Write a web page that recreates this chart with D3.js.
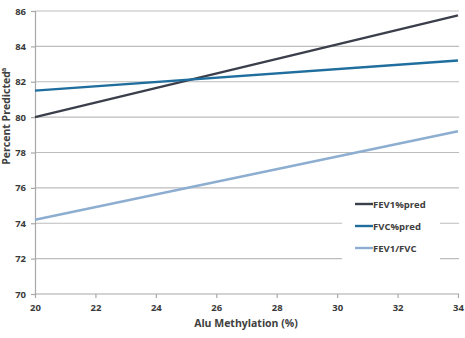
<!DOCTYPE html>
<html>
<head>
<meta charset="utf-8">
<script src="https://cdn.jsdelivr.net/npm/d3@7"></script>
<style>
  body { margin: 0; background: #fff; }
  text { font-family: "Open Sans", "Liberation Sans", sans-serif; font-weight: bold; fill: #404040; }
</style>
</head>
<body>
<div id="chart"></div>
<script>
// chart data
var xEnds = [20, 34];
var fev1Pred = [80.0, 85.75];
var fvcPred = [81.5, 83.2];
var fev1Fvc = [74.2, 79.2];
var seriesNames = ["FEV1%pred", "FVC%pred", "FEV1/FVC"];
var seriesColors = ["#3a3f4b", "#1f6e9e", "#8daed0"];
var xTicks = [20, 22, 24, 26, 28, 30, 32, 34];
var yTicks = [70, 72, 74, 76, 78, 80, 82, 84, 86];

var svgWidth = 465;
var svgHeight = 338;
var margin = { top: 11, right: 6, bottom: 44, left: 35 };
var width = svgWidth - margin.left - margin.right;
var height = svgHeight - margin.top - margin.bottom;

var svg = d3.select("#chart")
    .append("svg")
    .attr("width", svgWidth)
    .attr("height", svgHeight)
;

var chartGroup = svg.append("g")
    .attr("transform", `translate(${margin.left}, ${margin.top})`)
;

var xScale = d3.scaleLinear().domain([20, 34]).range([0, width - 1]);
var yScale = d3.scaleLinear().domain([70, 86]).range([height, 0]);

// horizontal grid lines
chartGroup.append("g")
    .selectAll("line")
    .data(yTicks.slice(1))
    .enter()
    .append("line")
    .attr("x1", 0)
    .attr("x2", width)
    .attr("y1", d => yScale(d))
    .attr("y2", d => yScale(d))
    .attr("stroke", "#bdbdbd")
    .attr("stroke-width", 1.2)
;

// axes
var xAxis = chartGroup.append("g")
    .attr("transform", `translate(0, ${height})`)
    .call(d3.axisBottom(xScale).tickValues(xTicks).tickSize(4).tickPadding(6))
;
var yAxis = chartGroup.append("g")
    .call(d3.axisLeft(yScale).tickValues(yTicks).tickSize(4).tickPadding(5))
;
[xAxis, yAxis].forEach(function(ax) {
    ax.selectAll("path").attr("stroke", "#a8a8a8").attr("stroke-width", 1.2);
    ax.selectAll("line").attr("stroke", "#a8a8a8").attr("stroke-width", 1.2);
    ax.selectAll("text").style("font-size", "9.5px").style("fill", "#3a3a3a");
});
xAxis.select(".domain").attr("d", `M0,0H${width}`);

// series lines
var allSeries = [fev1Pred, fvcPred, fev1Fvc];
var line = d3.line()
    .x((d, i) => xScale(xEnds[i]))
    .y(d => yScale(d))
;

allSeries.forEach(function(vals, i) {
    chartGroup.append("path")
        .datum(vals)
        .attr("d", line)
        .attr("fill", "none")
        .attr("stroke", seriesColors[i])
        .attr("stroke-width", 2.4)
    ;
});

// legend with white box covering grid
var legend = svg.append("g");
legend.append("rect")
    .attr("x", 342)
    .attr("y", 193)
    .attr("width", 98)
    .attr("height", 76)
    .attr("fill", "#fff")
;
seriesNames.forEach(function(name, i) {
    var ly = 204 + i * 22;
    legend.append("line")
        .attr("x1", 355)
        .attr("x2", 373)
        .attr("y1", ly)
        .attr("y2", ly)
        .attr("stroke", seriesColors[i])
        .attr("stroke-width", 2.4)
    ;
    legend.append("text")
        .attr("x", 373)
        .attr("y", ly + 3.5)
        .style("font-size", "9.5px")
        .text(name)
    ;
});

// X label
svg.append("text")
    .attr("x", 246)
    .attr("y", 327)
    .attr("text-anchor", "middle")
    .style("font-size", "10.5px")
    .text("Alu Methylation (%)")
;

// Y label (kept just inside the left edge)
svg.append("text")
    .attr("transform", "rotate(-90)")
    .attr("x", -118)
    .attr("y", 10)
    .attr("text-anchor", "middle")
    .style("font-size", "10.5px")
    .text("Percent Predicted")
;
svg.append("text")
    .attr("transform", "rotate(-90)")
    .attr("x", -72)
    .attr("y", 6)
    .style("font-size", "7px")
    .text("a")
;
</script>
</body>
</html>
